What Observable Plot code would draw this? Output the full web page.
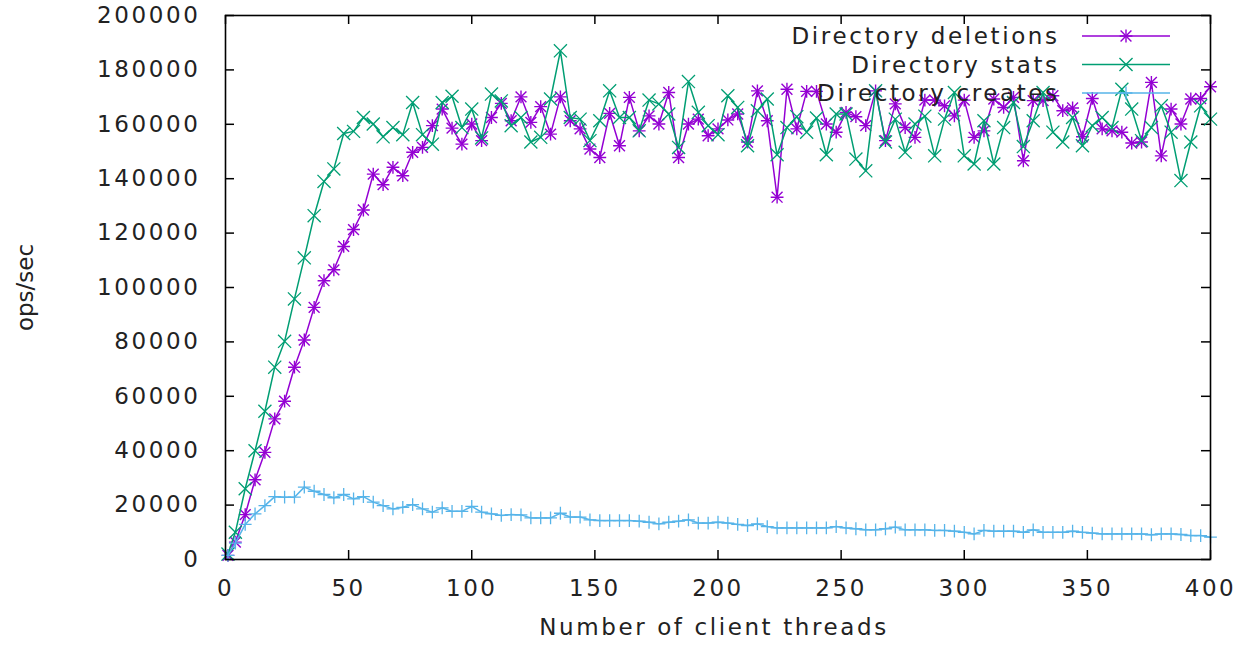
<!DOCTYPE html>
<html>
<head>
<meta charset="utf-8">
<script src="https://cdn.jsdelivr.net/npm/d3@7"></script>
<script src="https://cdn.jsdelivr.net/npm/@observablehq/plot@0.6"></script>
<style>
  html, body { margin: 0; padding: 0; background: #fff; }
  svg text { font-family: "DejaVu Sans", sans-serif; letter-spacing: 2.6px; }
  svg text.nospace { letter-spacing: 0px; }
</style>
</head>
<body>
<div id="chart"></div>
<script>
// ---- data ----
const threads = [1, 4, 8, 12, 16, 20, 24, 28, 32, 36, 40, 44, 48, 52, 56, 60, 64, 68, 72, 76, 80, 84, 88, 92, 96,
  100, 104, 108, 112, 116, 120, 124, 128, 132, 136, 140, 144, 148, 152, 156, 160, 164, 168, 172, 176, 180, 184, 188, 192, 196,
  200, 204, 208, 212, 216, 220, 224, 228, 232, 236, 240, 244, 248, 252, 256, 260, 264, 268, 272, 276, 280, 284, 288, 292, 296,
  300, 304, 308, 312, 316, 320, 324, 328, 332, 336, 340, 344, 348, 352, 356, 360, 364, 368, 372, 376, 380, 384, 388, 392, 396, 400];

const deletions = [1500, 6400, 16500, 29300, 39400, 51700, 58200, 70700, 80700, 92700, 102500, 106500, 115100, 121300, 128500, 141700, 137800, 144200, 141100, 149700, 151500, 159500, 165600, 158600, 152700,
  160100, 154000, 162500, 167700, 161300, 170100, 160700, 166500, 156400, 170100, 161300, 158300, 150900, 147800, 164000, 152100, 169900, 157600, 163100, 160100, 171700, 147800, 160100, 161900, 155800,
  158300, 161600, 163800, 153500, 172300, 161300, 133200, 172900, 158300, 172100, 172100, 160100, 157100, 164400, 162800, 159500, 172300, 154000, 167500, 158800, 155200, 168900, 168900, 166800, 163100,
  168900, 155200, 157600, 169300, 166200, 169900, 146600, 168700, 168700, 170500, 165000, 166000, 155400, 169500, 158300, 157600, 157100, 153100, 153500, 175400, 148400, 165600, 160100, 169300, 169500, 173800];

const stats = [2000, 10000, 26000, 40000, 54500, 70700, 80200, 95800, 110900, 126400, 139000, 143600, 156600, 157400, 162500, 160100, 155400, 158800, 156200, 168000, 156200, 152700, 168000, 170300, 158800,
  165600, 155000, 171100, 168600, 159500, 162500, 153500, 155200, 169300, 187000, 162500, 161900, 154000, 161300, 172300, 162500, 162500, 157600, 168900, 167500, 163800, 151500, 175700, 164400, 159500,
  156200, 170500, 166200, 152100, 165000, 169300, 148800, 158800, 162800, 157100, 162300, 148800, 163800, 163800, 147200, 142900, 172300, 153500, 161900, 149700, 160100, 163000, 148400, 161900, 171700,
  148400, 145400, 161300, 145400, 158800, 168000, 151800, 161300, 171700, 157100, 153500, 162500, 152100, 159500, 162500, 158800, 172900, 165600, 154000, 158800, 166800, 157100, 139300, 153500, 166800, 161900];

const creates = [1500, 6000, 12900, 16800, 19800, 23100, 22900, 22900, 26600, 25100, 23900, 22700, 23900, 22300, 23100, 21100, 19800, 18600, 19200, 20200, 18600, 17400, 19000, 17700, 17700,
  19500, 17400, 16800, 16200, 16500, 16400, 15300, 15300, 15300, 17000, 15600, 15600, 14600, 14300, 14300, 14300, 14300, 14100, 13700, 13100, 13700, 14100, 14600, 13400, 13400,
  13700, 13400, 12900, 12500, 13100, 12100, 11600, 11600, 11600, 11600, 11600, 11600, 12100, 11600, 11300, 10900, 10900, 11300, 11900, 10900, 10900, 10900, 10700, 10700, 10400,
  10000, 9400, 10700, 10400, 10400, 10400, 10000, 10900, 10000, 10000, 10000, 10400, 10000, 9700, 9400, 9400, 9400, 9400, 9400, 9100, 9400, 9400, 9200, 8800, 8800, 8200];

const seriesNames = ["Directory deletions", "Directory stats", "Directory creates"];
const seriesColors = ["#9400d3", "#009e73", "#56b4e9"];
const xTicks = [0, 50, 100, 150, 200, 250, 300, 350, 400];
const yTicks = [0, 20000, 40000, 60000, 80000, 100000, 120000, 140000, 160000, 180000, 200000];
const xLabel = "Number of client threads";
const yLabel = "ops/sec";

// ---- layout ----
const W = 1249, H = 648;
const mL = 225, mR = 39, mT = 15, mB = 89;
const plotW = W - mL - mR, plotH = H - mT - mB;
const tickLen = 9;
const textColor = "#222";

const rows = threads.map((t, i) => ({t, del: deletions[i], st: stats[i], cr: creates[i]}));

const chart = Plot.plot({
  width: W, height: H,
  marginLeft: mL, marginRight: mR, marginTop: mT, marginBottom: mB,
  x: {domain: [0, 400]},
  y: {domain: [0, 200000]},
  style: {fontFamily: "DejaVu Sans", background: "#fff", color: textColor, overflow: "visible"},
  marks: [
    Plot.axisY(yTicks, {tickSize: 0, tickPadding: 25, fontSize: 23, fill: textColor, label: null, tickFormat: d => String(d)}),
    Plot.axisX(xTicks, {tickSize: 0, tickPadding: 20, fontSize: 23, fill: textColor, label: null, tickFormat: d => String(d)}),
    // inward mirrored ticks
    Plot.tickY(yTicks, {y: d => d, stroke: "#000", strokeWidth: 1.5, insetRight: plotW - tickLen}),
    Plot.tickY(yTicks, {y: d => d, stroke: "#000", strokeWidth: 1.5, insetLeft: plotW - tickLen}),
    Plot.tickX(xTicks, {x: d => d, stroke: "#000", strokeWidth: 1.5, insetTop: plotH - tickLen}),
    Plot.tickX(xTicks, {x: d => d, stroke: "#000", strokeWidth: 1.5, insetBottom: plotH - tickLen}),
    // deletions
    Plot.line(rows, {x: "t", y: "del", stroke: seriesColors[0], strokeWidth: 1.5}),
    Plot.dot(rows, {x: "t", y: "del", symbol: "times", r: 5, stroke: seriesColors[0], strokeWidth: 1.4}),
    Plot.dot(rows, {x: "t", y: "del", symbol: "plus", r: 4.2, stroke: seriesColors[0], strokeWidth: 1.4}),
    // stats
    Plot.line(rows, {x: "t", y: "st", stroke: seriesColors[1], strokeWidth: 1.5}),
    Plot.dot(rows, {x: "t", y: "st", symbol: "times", r: 6, stroke: seriesColors[1], strokeWidth: 1.3}),
    // creates
    Plot.line(rows, {x: "t", y: "cr", stroke: seriesColors[2], strokeWidth: 1.5}),
    Plot.dot(rows, {x: "t", y: "cr", symbol: "plus", r: 4.2, stroke: seriesColors[2], strokeWidth: 1.3}),
    Plot.frame({stroke: "#000", strokeWidth: 1.6}),
    // axis titles
    Plot.text([xLabel], {frameAnchor: "bottom", text: d => d, dy: 75, dx: -4, fontSize: 23, fill: textColor}),
    Plot.text([yLabel], {frameAnchor: "left", textAnchor: "middle", text: d => d, rotate: -90, dx: -200, dy: 0, fontSize: 23, fill: textColor})
  ]
});

document.getElementById("chart").appendChild(chart);

const svg = d3.select(chart);
svg.selectAll("text").filter(function () { return this.textContent === yLabel; })
  .classed("nospace", true).style("letter-spacing", "0px");

// ---- legend (top right, inside frame, gnuplot style) ----
const legRowsY = [36, 64.5, 93];
const textEndX = 1057, lineX1 = 1082, lineX2 = 1170, markX = 1126;
const leg = svg.append("g").attr("class", "legend");
seriesNames.forEach((name, i) => {
  const y = legRowsY[i];
  leg.append("text")
    .attr("x", textEndX + 2.6).attr("y", y)
    .attr("text-anchor", "end").attr("dy", "0.36em")
    .attr("font-size", 23).attr("fill", textColor)
    .text(name);
  leg.append("line")
    .attr("x1", lineX1).attr("x2", lineX2).attr("y1", y).attr("y2", y)
    .attr("stroke", seriesColors[i]).attr("stroke-width", 1.5);
  const syms = i === 0 ? [[d3.symbolTimes, 5], [d3.symbolPlus, 4.2]] : i === 1 ? [[d3.symbolTimes, 6]] : [[d3.symbolPlus, 4.2]];
  syms.forEach(([s, r]) => {
    leg.append("path")
      .attr("d", d3.symbol(s, Math.PI * r * r)())
      .attr("transform", `translate(${markX},${y})`)
      .attr("fill", "none").attr("stroke", seriesColors[i]).attr("stroke-width", 1.4);
  });
});
</script>
</body>
</html>
